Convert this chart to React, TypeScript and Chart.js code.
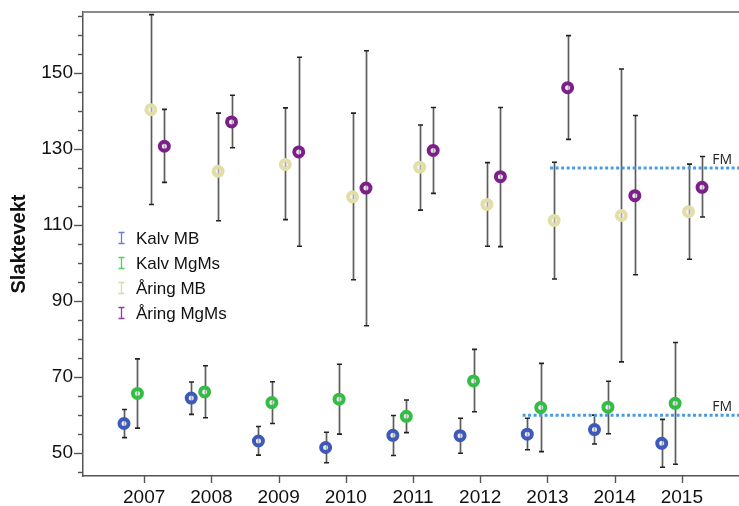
import React, { useEffect, useRef } from 'react';
import { Chart, registerables } from 'chart.js';

Chart.register(...registerables);

// ---- data ----
const years = [2007, 2008, 2009, 2010, 2011, 2012, 2013, 2014, 2015];
const seriesNames = ['Kalv MB', 'Kalv MgMs', 'Åring MB', 'Åring MgMs'];

const kalvMBMean = [57.8, 64.5, 53.2, 51.5, 54.7, 54.6, 55.0, 56.2, 52.6];
const kalvMBLow = [54.1, 60.2, 49.5, 47.5, 49.4, 50.0, 50.9, 52.4, 46.3];
const kalvMBHigh = [61.5, 68.7, 57.0, 55.5, 59.9, 59.2, 59.2, 60.0, 58.9];

const kalvMgMsMean = [65.7, 66.1, 63.3, 64.2, 59.7, 69.0, 62.0, 62.1, 63.1];
const kalvMgMsLow = [56.6, 59.3, 57.8, 55.0, 55.4, 60.9, 50.4, 55.1, 47.1];
const kalvMgMsHigh = [74.8, 73.0, 68.8, 73.4, 64.0, 77.3, 73.6, 68.9, 79.1];

const aringMBMean = [140.3, 124.1, 125.9, 117.4, 125.2, 115.4, 111.2, 112.5, 113.5];
const aringMBLow = [115.4, 111.1, 111.4, 95.6, 113.9, 104.4, 95.8, 74.0, 101.0];
const aringMBHigh = [165.3, 139.4, 140.8, 139.4, 136.3, 126.4, 126.5, 151.0, 126.0];

const aringMgMsMean = [130.7, 137.1, 129.2, 119.7, 129.6, 122.7, 146.1, 117.7, 119.9];
const aringMgMsLow = [121.2, 130.3, 104.4, 83.5, 118.3, 104.3, 132.5, 96.9, 112.1];
const aringMgMsHigh = [140.4, 144.1, 154.1, 155.8, 140.9, 140.9, 159.8, 138.8, 128.0];

const yTickValues = [45, 50, 55, 60, 65, 70, 75, 80, 85, 90, 95, 100, 105, 110, 115, 120, 125, 130, 135, 140, 145, 150, 155, 160, 165];
const yTickLabels = [50, 70, 90, 110, 130, 150];

const fmLabel = 'FM';
const fmUpperValue = 125;
const fmUpperFrom = 2013.04;
const fmLowerValue = 60;
const fmLowerFrom = 2012.63;

const yTitle = 'Slaktevekt';

// ---- styling ----
const X_MIN = 2006.09;
const X_MAX = 2015.85;
const Y_MIN = 44;
const Y_MAX = 166;
const dodge = [-0.3, -0.1, 0.1, 0.3];
const pointColors = ['#3c59bb', '#33bd44', '#e2dea6', '#7d1f8a'];
const legendColors = ['#6a7bd0', '#4fcf62', '#dcd8ac', '#9a3aa3'];
const FONT = "'Liberation Sans', Arial, sans-serif";

const seriesMean = [kalvMBMean, kalvMgMsMean, aringMBMean, aringMgMsMean];
const seriesLow = [kalvMBLow, kalvMgMsLow, aringMBLow, aringMgMsLow];
const seriesHigh = [kalvMBHigh, kalvMgMsHigh, aringMBHigh, aringMgMsHigh];

const customPlugin = {
  id: 'custom',
  beforeDatasetsDraw(chart: any) {
    const { ctx, scales, chartArea } = chart;
    const x = scales.x, y = scales.y;
    ctx.save();
    ctx.beginPath();
    ctx.rect(chartArea.left, chartArea.top, chartArea.right - chartArea.left, chartArea.bottom - chartArea.top);
    ctx.clip();
    chart.data.datasets.forEach((ds: any) => {
      if (!ds.errorBars) return;
      ds.data.forEach((p: any) => {
        const px = Math.round(x.getPixelForValue(p.x)) + 0.5;
        const yl = y.getPixelForValue(p.lo);
        const yh = y.getPixelForValue(p.hi);
        ctx.strokeStyle = '#5c5c5c';
        ctx.lineWidth = 1.7;
        ctx.beginPath();
        ctx.moveTo(px, yl);
        ctx.lineTo(px, yh);
        ctx.stroke();
        ctx.strokeStyle = '#222';
        ctx.lineWidth = 1.6;
        ctx.beginPath();
        ctx.moveTo(px - 2.5, yl);
        ctx.lineTo(px + 2.5, yl);
        ctx.moveTo(px - 2.5, yh);
        ctx.lineTo(px + 2.5, yh);
        ctx.stroke();
      });
    });
    ctx.restore();
  },
  afterDraw(chart: any) {
    const { ctx, scales, chartArea } = chart;
    const x = scales.x, y = scales.y;
    ctx.save();
    // top border
    ctx.strokeStyle = '#8a8a8a';
    ctx.lineWidth = 2;
    ctx.beginPath();
    ctx.moveTo(chartArea.left, chartArea.top);
    ctx.lineTo(chartArea.right, chartArea.top);
    ctx.stroke();
    // y tick marks
    ctx.strokeStyle = '#555';
    ctx.lineWidth = 1.4;
    yTickValues.forEach((v) => {
      const py = Math.round(y.getPixelForValue(v)) + 0.5;
      const len = yTickLabels.includes(v) ? 9 : 5;
      ctx.beginPath();
      ctx.moveTo(chartArea.left - len, py);
      ctx.lineTo(chartArea.left, py);
      ctx.stroke();
    });
    // x tick marks
    years.forEach((v) => {
      const px = Math.round(x.getPixelForValue(v)) + 0.5;
      ctx.beginPath();
      ctx.moveTo(px, chartArea.bottom);
      ctx.lineTo(px, chartArea.bottom + 7);
      ctx.stroke();
    });
    // FM labels
    ctx.fillStyle = '#222';
    ctx.font = "14px 'Open Sans', sans-serif";
    ctx.textAlign = 'right';
    ctx.textBaseline = 'alphabetic';
    [fmUpperValue, fmLowerValue].forEach((v) => {
      const py = y.getPixelForValue(v);
      ctx.fillText(fmLabel, chartArea.right - 7, py - 4);
    });
    // legend
    ctx.font = `17px ${FONT}`;
    ctx.textAlign = 'left';
    ctx.textBaseline = 'middle';
    seriesNames.forEach((name, i) => {
      const cy = 238 + i * 25;
      const ix = 121.5;
      ctx.strokeStyle = legendColors[i];
      ctx.lineWidth = 1.3;
      ctx.beginPath();
      ctx.moveTo(ix, cy - 5.5);
      ctx.lineTo(ix, cy + 5.5);
      ctx.moveTo(ix - 3, cy - 5.5);
      ctx.lineTo(ix + 3, cy - 5.5);
      ctx.moveTo(ix - 3, cy + 5.5);
      ctx.lineTo(ix + 3, cy + 5.5);
      ctx.stroke();
      ctx.fillStyle = '#111';
      ctx.fillText(name, 136, cy + 1);
    });
    // y title
    ctx.translate(19.5, (chartArea.top + chartArea.bottom) / 2);
    ctx.rotate(-Math.PI / 2);
    ctx.font = `bold 20px ${FONT}`;
    ctx.textAlign = 'center';
    ctx.textBaseline = 'middle';
    ctx.fillStyle = '#111';
    ctx.fillText(yTitle, 0, 0);
    ctx.restore();
  },
};

export default function App() {
  const ref = useRef<HTMLCanvasElement>(null);
  useEffect(() => {
    document.body.style.margin = '0';
    const canvas = ref.current!;
    const scatterSets = seriesNames.map((name, si) => ({
      type: 'scatter' as const,
      label: name,
      errorBars: true,
      data: years.map((yr, i) => ({ x: yr + dodge[si], y: seriesMean[si][i], lo: seriesLow[si][i], hi: seriesHigh[si][i] })),
      pointRadius: 4.5,
      pointHoverRadius: 4.5,
      pointBorderWidth: 4,
      pointHoverBorderWidth: 4,
      pointBorderColor: pointColors[si],
      pointBackgroundColor: 'rgba(235,235,235,0.55)',
      showLine: false,
      order: 1,
    }));
    const fmSets = [
      [fmUpperFrom, fmUpperValue],
      [fmLowerFrom, fmLowerValue],
    ].map(([from, v]) => ({
      type: 'line' as const,
      label: fmLabel,
      data: [{ x: from, y: v }, { x: X_MAX, y: v }],
      borderColor: '#4a9be0',
      borderWidth: 3,
      borderDash: [3, 2.5],
      pointRadius: 0,
      fill: false,
      order: 0,
    }));
    const chart = new Chart(canvas, {
      type: 'scatter',
      data: { datasets: [...scatterSets, ...fmSets] as any },
      options: {
        animation: false,
        responsive: false,
        maintainAspectRatio: false,
        devicePixelRatio: 1,
        layout: { autoPadding: false, padding: { top: 12, right: 0, left: 0, bottom: 0 } },
        plugins: { legend: { display: false }, tooltip: { enabled: false } },
        events: [],
        scales: {
          x: {
            type: 'linear',
            min: X_MIN,
            max: X_MAX,
            afterBuildTicks: (s: any) => {
              s.ticks = years.map((v) => ({ value: v }));
            },
            afterFit: (s: any) => {
              s.height = 30;
              s.paddingLeft = 0;
              s.paddingRight = 0;
            },
            ticks: {
              callback: (v: any) => String(v),
              font: { size: 19, family: FONT },
              color: '#111',
              padding: 10,
              autoSkip: false,
              maxRotation: 0,
            },
            grid: { display: false, drawTicks: false },
            border: { display: true, color: '#555', width: 1.5 },
          },
          y: {
            type: 'linear',
            min: Y_MIN,
            max: Y_MAX,
            afterBuildTicks: (s: any) => {
              s.ticks = yTickValues.map((v) => ({ value: v }));
            },
            afterFit: (s: any) => {
              s.width = 83;
              s.paddingTop = 0;
              s.paddingBottom = 0;
            },
            ticks: {
              callback: (v: any) => (yTickLabels.includes(v) ? String(v) : ''),
              font: { size: 19, family: FONT },
              color: '#111',
              padding: 10,
              autoSkip: false,
            },
            grid: { display: false, drawTicks: false },
            border: { display: true, color: '#555', width: 1.5 },
          },
        },
      } as any,
      plugins: [customPlugin],
    });
    return () => chart.destroy();
  }, []);
  return (
    <div style={{ width: 739, height: 506 }}>
      <canvas ref={ref} width={739} height={506} style={{ display: 'block' }} />
    </div>
  );
}
